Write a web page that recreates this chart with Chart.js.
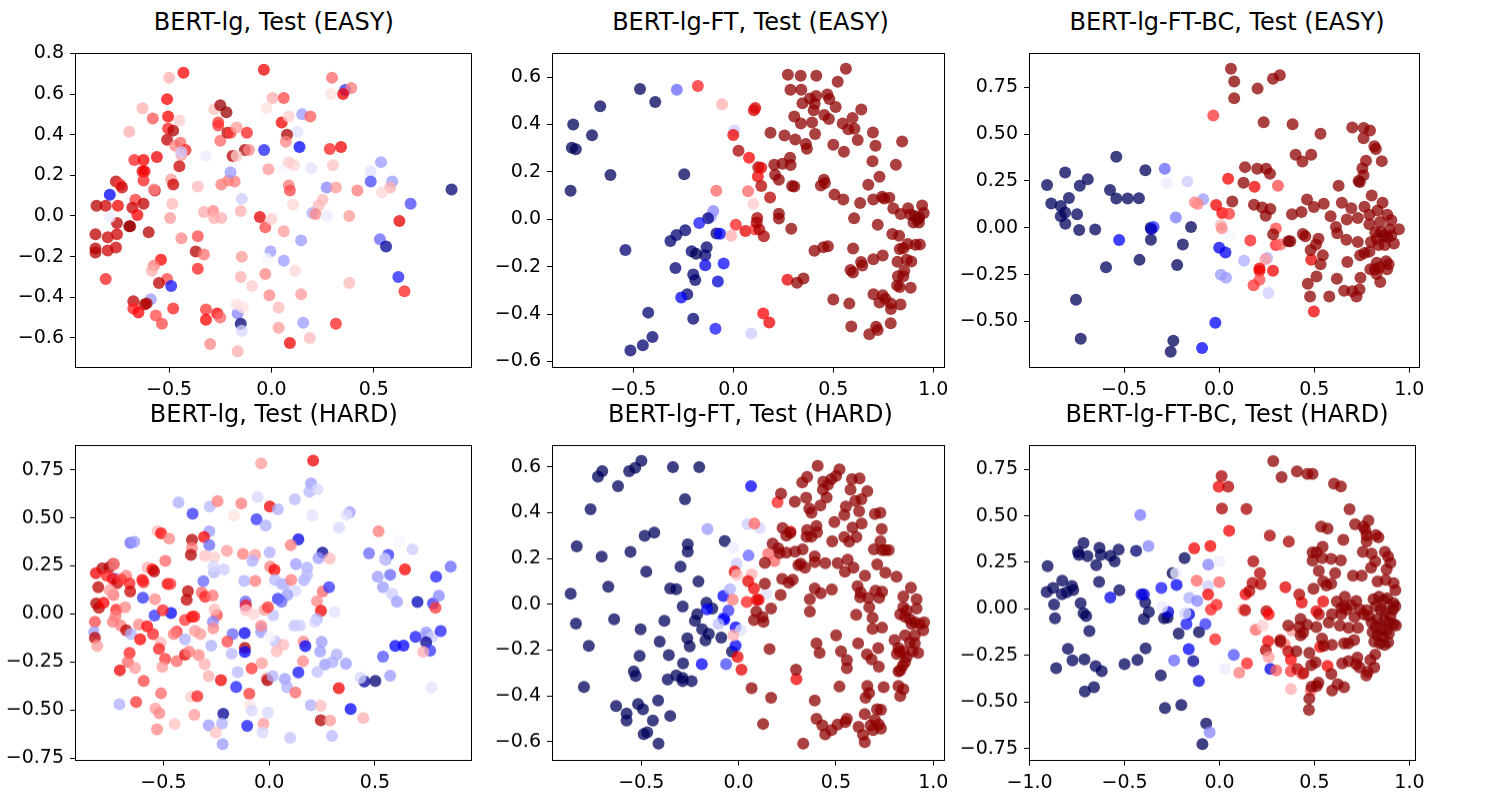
<!DOCTYPE html>
<html><head><meta charset="utf-8">
<script src="https://cdn.jsdelivr.net/npm/chart.js@4.4.1/dist/chart.umd.min.js"></script>
<style>
body{margin:0;background:#fff;width:1500px;height:800px;position:relative;overflow:hidden;font-family:"DejaVu Sans",sans-serif}
.box{position:absolute}
.ttl{position:absolute;text-align:center;font-family:"DejaVu Sans";font-size:24px;line-height:28px;color:#000;white-space:nowrap}
</style></head><body>
<script>
const easyBert = [
[-0.5,0.68,.58],[-0.43,0.705,.75],[-0.037,0.72,.78],[0.296,0.68,.65],[0.36,0.62,.3],[0.39,0.63,.63],[0.35,0.60,.77],[0.29,0.60,.53],
[0.005,0.58,.58],[0.06,0.58,.68],[-0.63,0.53,.58],[-0.51,0.575,.75],[-0.505,0.49,.76],[-0.58,0.48,.67],[-0.45,0.47,.55],
[-0.28,0.525,.56],[-0.25,0.545,.95],[-0.22,0.51,.95],[-0.26,0.445,.7],[-0.26,0.46,.7],[-0.025,0.53,.53],
[0.05,0.46,.77],[0.085,0.49,.55],[0.15,0.5,.4],[0.19,0.49,.66],[0.127,0.415,.47],[0.076,0.4,.92],[0.07,0.365,.62],
[0.137,0.34,.25],[-0.036,0.325,.28],[0.285,0.33,.72],[0.34,0.34,.78],[-0.695,0.415,.58],
[-0.505,0.43,.72],[-0.48,0.42,.9],[-0.51,0.375,.88],[-0.47,0.345,.62],[-0.445,0.36,.65],[-0.42,0.325,.72],[-0.44,0.3,.6],[-0.44,0.315,.45],
[-0.25,0.37,.65],[-0.215,0.41,.9],[-0.2,0.41,.7],[-0.17,0.435,.6],[-0.12,0.41,.72],
[-0.32,0.295,.48],[-0.19,0.295,.9],[-0.13,0.325,.92],[-0.11,0.325,.62],[-0.17,0.295,.55],
[-0.67,0.275,.72],[-0.625,0.275,.75],[-0.56,0.29,.78],[-0.63,0.22,.78],[-0.62,0.22,.78],[-0.625,0.175,.72],
[-0.45,0.245,.85],[-0.49,0.18,.6],[-0.48,0.155,.85],[-0.57,0.125,.85],[-0.575,0.13,.62],
[-0.36,0.145,.57],[-0.245,0.155,.63],[-0.21,0.175,.63],[-0.18,0.17,.63],
[-0.2,0.215,.4],[-0.015,0.23,.6],[0.065,0.24,.49],[0.11,0.25,.54],[0.085,0.265,.55],[0.195,0.235,.47],[0.3,0.25,.56],
[0.535,0.265,.4],[0.485,0.22,.47],[0.485,0.17,.32],[0.59,0.17,.4],[0.58,0.14,.58],[0.54,0.115,.54],[0.42,0.125,.63],
[0.27,0.14,.38],[0.315,0.14,.6],[0.085,0.15,.63],[0.09,0.125,.68],
[0.25,0.08,.57],[0.23,0.05,.57],[0.2,0.015,.42],[0.215,0.01,.62],[0.27,0.0,.48],[0.38,0.0,.6],
[0.105,0.055,.54],[-0.145,0.085,.45],[-0.15,0.025,.58],
[-0.33,0.02,.58],[-0.285,0.025,.62],[-0.28,-0.01,.58],[-0.245,-0.01,.58],[-0.485,0.06,.57],[-0.495,-0.01,.6],
[-0.79,0.105,.25],[-0.76,0.17,.88],[-0.74,0.155,.7],[-0.73,0.14,.85],
[-0.855,0.05,.9],[-0.81,0.05,.85],[-0.75,0.05,.78],[-0.665,0.08,.7],[-0.68,0.04,.85],[-0.655,0.005,.75],[-0.625,0.06,.88],
[-0.755,-0.035,.88],[-0.695,-0.05,.95],[-0.69,-0.05,.95],[-0.6,-0.08,.9],[-0.755,-0.09,.85],[-0.79,-0.005,.48],
[-0.86,-0.09,.88],[-0.8,-0.105,.85],[-0.76,-0.155,.85],[-0.8,-0.17,.85],[-0.86,-0.16,.9],[-0.86,-0.18,.9],
[-0.81,-0.31,.72],[-0.36,-0.1,.68],[-0.44,-0.11,.62],[-0.37,-0.175,.9],[-0.33,-0.19,.64],
[-0.54,-0.215,.75],[-0.575,-0.245,.63],[-0.585,-0.27,.58],
[-0.36,-0.26,.72],[-0.51,-0.31,.68],[-0.55,-0.33,.88],[-0.49,-0.345,.27],
[-0.59,-0.41,.4],[-0.675,-0.42,.88],[-0.61,-0.43,.92],[-0.62,-0.435,.9],[-0.675,-0.455,.72],[-0.65,-0.475,.75],
[-0.565,-0.49,.68],[-0.48,-0.455,.72],[-0.535,-0.53,.68],
[-0.32,-0.46,.7],[-0.32,-0.51,.75],[-0.265,-0.48,.75],[-0.25,-0.5,.65],[-0.3,-0.63,.62],
[-0.165,-0.48,.38],[-0.15,-0.53,.05],[-0.145,-0.565,.46],[-0.17,-0.435,.53],[-0.14,-0.45,.53],[-0.165,-0.665,.58],
[-0.03,-0.285,.62],[-0.01,-0.39,.62],[0.035,-0.45,.57],[0.035,-0.55,.6],[0.09,-0.625,.78],
[0.155,-0.525,.4],[0.187,-0.6,.57],[0.315,-0.53,.72],
[-0.145,-0.2,.6],[-0.15,-0.3,.58],[-0.095,-0.345,.55],
[-0.005,-0.175,.4],[-0.025,-0.21,.49],[0.06,-0.22,.4],[0.115,-0.27,.54],
[0.145,-0.12,.4],[0.06,-0.075,.6],[-0.03,-0.055,.68],[-0.057,-0.005,.8],[0.0,-0.015,.55],
[0.145,-0.385,.6],[0.38,-0.33,.57],
[0.53,-0.115,.35],[0.56,-0.15,.1],[0.62,-0.3,.28],[0.65,-0.37,.72],[0.625,-0.025,.8],[0.68,0.06,.32],[0.88,0.13,.05]
];
const easyFT = [
[-0.466,0.55,.02],[-0.39,0.495,.02],[-0.665,0.477,.02],[-0.8,0.4,.02],[-0.706,0.355,.02],[-0.807,0.302,.02],[-0.787,0.295,.02],[-0.614,0.187,.02],[-0.245,0.19,.02],[-0.813,0.12,.02],
[-0.282,0.547,.35],[-0.177,0.562,.72],[-0.056,0.485,.58],[0.005,0.375,.45],[0.0,0.356,.78],[0.103,0.46,.82],[0.11,0.47,.82],
[0.026,0.289,.92],[0.079,0.26,.75],[0.125,0.22,.92],[0.14,0.217,.8],[0.123,0.18,.78],[0.14,0.14,.9],
[-0.085,0.12,.65],[0.074,0.118,.65],[0.1,0.065,.55],[0.184,0.092,.9],
[-0.1,0.035,.38],[-0.112,0.012,.4],[-0.126,0.004,.08],[-0.17,-0.016,.27],
[-0.24,-0.046,.05],[-0.284,-0.066,.05],[-0.314,-0.092,.05],[-0.084,-0.06,.05],[-0.066,-0.061,.25],
[-0.133,-0.118,.05],[-0.14,-0.152,.05],[-0.208,-0.135,.05],[-0.186,-0.146,.02],[-0.048,-0.187,.26],[-0.14,-0.194,.22],
[-0.539,-0.13,.05],[-0.289,-0.206,.05],[-0.2,-0.233,.05],[-0.19,-0.256,.05],[-0.077,-0.263,.18],
[-0.23,-0.316,.05],[-0.26,-0.33,.25],[-0.425,-0.394,.05],[-0.2,-0.42,.05],[-0.089,-0.462,.27],[0.09,-0.482,.45],
[-0.404,-0.497,.05],[-0.452,-0.532,.05],[-0.514,-0.554,.05],
[0.013,-0.023,.72],[0.061,-0.05,.8],[0.108,-0.043,.7],[-0.011,-0.07,.58],
[0.12,0.005,.92],[0.117,-0.014,.92],[0.13,-0.043,.92],[0.153,-0.072,.92],
[0.15,-0.398,.75],[0.18,-0.436,.78],[0.271,-0.255,.8],
[0.273,0.61,.97],[0.337,0.606,.97],[0.415,0.606,.97],[0.563,0.635,.97],[0.522,0.58,.97],
[0.286,0.547,.97],[0.34,0.547,.97],[0.414,0.52,.97],[0.383,0.51,.97],[0.47,0.527,.97],[0.48,0.508,.97],[0.346,0.49,.97],[0.407,0.488,.97],[0.402,0.46,.97],[0.512,0.474,.97],[0.64,0.463,.97],
[0.305,0.434,.97],[0.455,0.44,.97],[0.478,0.423,.97],[0.338,0.404,.97],[0.394,0.408,.97],[0.547,0.404,.97],[0.596,0.427,.97],[0.575,0.38,.97],[0.606,0.382,.97],
[0.186,0.365,.97],[0.256,0.354,.97],[0.409,0.36,.97],[0.31,0.337,.97],[0.363,0.318,.97],[0.368,0.298,.97],[0.5,0.314,.97],[0.553,0.285,.97],[0.622,0.335,.97],[0.698,0.366,.97],[0.711,0.31,.97],[0.844,0.328,.97],
[0.284,0.26,.97],[0.287,0.229,.97],[0.246,0.234,.97],[0.205,0.23,.97],[0.209,0.188,.97],[0.228,0.167,.97],[0.294,0.14,.97],[0.305,0.138,.97],[0.453,0.167,.97],[0.458,0.153,.97],[0.438,0.142,.97],
[0.696,0.245,.97],[0.813,0.23,.97],[0.731,0.179,.97],[0.675,0.146,.97],
[0.506,0.104,.97],[0.55,0.083,.97],[0.634,0.069,.97],[0.7,0.083,.97],[0.744,0.095,.97],[0.754,0.088,.97],[0.78,0.091,.97],[0.8,0.045,.97],[0.837,0.022,.97],[0.874,0.046,.97],[0.885,0.02,.97],[0.944,0.058,.97],[0.952,0.026,.97],
[0.228,0.023,.97],[0.228,0.003,.97],[0.604,0.004,.97],[0.29,-0.04,.97],[0.722,-0.023,.97],
[0.908,0.014,.99],[0.92,-0.001,.99],[0.928,-0.014,.99],[0.901,-0.014,.99],[0.93,0.007,.99],
[0.795,-0.062,.97],[0.829,-0.07,.97],[0.872,-0.104,.97],[0.832,-0.126,.97],[0.85,-0.122,.97],[0.911,-0.108,.97],[0.933,-0.107,.97],
[0.406,-0.133,.97],[0.45,-0.118,.97],[0.473,-0.114,.97],[0.599,-0.123,.97],[0.7,-0.169,.97],[0.747,-0.153,.97],
[0.586,-0.214,.97],[0.598,-0.225,.97],[0.639,-0.18,.97],[0.645,-0.195,.97],[0.821,-0.179,.97],[0.867,-0.171,.97],[0.89,-0.178,.97],[0.855,-0.217,.97],[0.823,-0.24,.97],[0.85,-0.24,.97],
[0.319,-0.268,.97],[0.351,-0.25,.97],[0.819,-0.279,.97],[0.832,-0.286,.97],[0.887,-0.289,.97],
[0.701,-0.316,.97],[0.747,-0.321,.97],[0.76,-0.335,.97],[0.731,-0.351,.97],[0.788,-0.356,.97],[0.788,-0.379,.97],[0.836,-0.36,.97],[0.787,-0.439,.97],
[0.5,-0.339,.97],[0.58,-0.356,.97],[0.59,-0.453,.97],[0.714,-0.454,.97],[0.722,-0.467,.97],[0.68,-0.485,.97]
];
const easyBC = [
[-0.905,0.228,.02],[-0.883,0.13,.02],[-0.81,0.295,.02],[-0.79,0.159,.02],[-0.833,0.116,.02],[-0.81,0.082,.02],[-0.833,0.062,.02],[-0.809,0.022,.02],[-0.747,0.072,.02],[-0.733,0.224,.02],[-0.691,0.259,.02],[-0.736,-0.012,.02],[-0.652,-0.009,.02],[-0.574,0.202,.02],[-0.541,0.38,.02],[-0.541,0.156,.02],[-0.481,0.156,.02],[-0.422,0.158,.02],[-0.388,0.307,.02],[-0.36,0.0,.02],[-0.359,-0.063,.02],[-0.419,-0.171,.02],[-0.595,-0.21,.02],[-0.753,-0.384,.02],[-0.728,-0.592,.02],[-0.255,-0.661,.02],[-0.241,-0.603,.02],[-0.191,-0.089,.02],[-0.148,0.005,.02],[-0.221,-0.199,.02],
[-0.526,-0.065,.25],[-0.345,0.005,.3],[-0.357,-0.007,.15],[-0.286,0.315,.35],[-0.276,0.24,.48],[-0.228,0.055,.37],[-0.167,0.247,.45],[-0.084,0.152,.4],[-0.112,0.127,.62],[-0.128,0.136,.62],
[-0.02,-0.507,.25],[-0.09,-0.642,.25],[0.0,-0.106,.22],[0.033,-0.132,.23],[0.009,-0.25,.4],[0.036,-0.267,.4],[0.131,-0.176,.42],[0.252,-0.161,.42],[0.259,-0.348,.45],[0.057,-0.039,.49],
[-0.031,0.599,.7],[0.047,0.262,.77],[-0.016,0.122,.78],[0.016,0.079,.75],[0.052,0.075,.7],[0.009,0.015,.57],[0.014,-0.002,.62],
[0.186,0.219,.78],[0.309,0.224,.68],[0.164,-0.068,.72],[0.298,-0.003,.68],[0.298,-0.092,.72],[0.322,-0.089,.65],
[0.243,-0.168,.6],[0.212,-0.217,.78],[0.212,-0.229,.78],[0.212,-0.277,.68],[0.181,-0.307,.7],[0.283,-0.229,.78],[0.484,-0.17,.8],[0.498,-0.447,.78],
[0.062,0.849,.97],[0.079,0.781,.99],[0.079,0.692,.97],[0.202,0.743,.97],[0.283,0.796,.97],[0.319,0.815,.97],[0.234,0.563,.97],[0.386,0.553,.97],[0.533,0.502,.97],[0.402,0.39,.97],[0.484,0.39,.97],[0.438,0.354,.97],
[0.136,0.324,.97],[0.2,0.315,.97],[0.247,0.315,.97],[0.267,0.289,.97],[0.128,0.24,.97],[0.069,0.14,.97],[0.183,0.123,.97],[0.226,0.108,.97],[0.269,0.101,.97],[0.245,0.065,.97],
[0.383,0.072,.97],[0.433,0.084,.97],[0.462,0.151,.97],[0.498,0.111,.97],[0.55,0.128,.97],[0.586,0.062,.97],[0.628,0.224,.97],[0.645,0.134,.97],[0.671,0.045,.97],[0.614,0.005,.97],[0.621,-0.029,.97],[0.695,0.104,.97],[0.729,0.053,.97],[0.764,0.113,.97],[0.802,0.173,.97],[0.79,0.07,.97],[0.859,0.134,.97],
[0.7,0.536,.97],[0.76,0.533,.97],[0.793,0.519,.97],[0.759,0.478,.97],[0.816,0.435,.97],[0.824,0.421,.97],[0.772,0.358,.97],[0.855,0.356,.97],[0.753,0.318,.97],[0.759,0.281,.97],[0.733,0.25,.99],[0.74,0.245,.99],
[0.284,-0.034,.97],[0.364,-0.072,.99],[0.374,-0.072,.99],[0.44,-0.033,.97],[0.453,-0.045,.97],[0.481,-0.118,.97],[0.522,-0.058,.97],[0.509,-0.089,.97],[0.545,-0.147,.97],[0.533,-0.195,.97],
[0.466,-0.298,.97],[0.512,-0.26,.97],[0.478,-0.366,.97],[0.579,-0.366,.97],[0.619,-0.272,.97],[0.657,-0.336,.97],[0.7,-0.339,.97],[0.722,-0.366,.97],[0.738,-0.329,.97],[0.743,-0.267,.97],[0.674,-0.183,.97],[0.669,-0.063,.97],
[0.729,-0.075,.97],[0.741,-0.147,.97],[0.764,-0.135,.97],[0.79,-0.127,.97],[0.798,-0.075,.97],[0.829,-0.058,.97],[0.838,-0.092,.97],[0.871,-0.092,.97],[0.821,-0.024,.97],[0.85,-0.024,.97],[0.867,-0.041,.99],[0.884,-0.05,.99],[0.905,-0.041,.99],[0.895,-0.007,.97],[0.919,-0.084,.97],[0.945,-0.007,.97],[0.884,0.07,.97],[0.905,0.041,.97],[0.833,0.092,.97],[0.845,0.031,.97],[0.79,0.019,.97],
[0.829,-0.187,.97],[0.841,-0.212,.97],[0.819,-0.221,.97],[0.795,-0.221,.97],[0.878,-0.178,.97],[0.891,-0.195,.97],[0.883,-0.221,.97],[0.828,-0.247,.97],[0.847,-0.289,.97]
];
const hardBert = [
[-0.038,0.784,.6],[0.208,0.798,.78],[0.198,0.679,.4],[0.19,0.637,.43],[0.228,0.65,.46],[-0.055,0.609,.46],[0.121,0.597,.43],
[-0.429,0.58,.42],[-0.281,0.56,.43],[-0.244,0.587,.63],[-0.132,0.575,.63],[-0.362,0.522,.3],[0.003,0.56,.78],[0.041,0.545,.42],[-0.167,0.512,.53],[0.204,0.512,.47],
[-0.06,0.493,.3],[-0.017,0.46,.42],[0.381,0.53,.4],[0.365,0.517,.47],[0.33,0.45,.46],[0.517,0.43,.63],
[-0.283,0.43,.4],[-0.528,0.431,.57],[-0.511,0.42,.75],[-0.473,0.393,.62],[-0.365,0.386,.9],[-0.308,0.4,.75],[-0.365,0.344,.63],[-0.283,0.358,.35],[-0.37,0.308,.9],
[-0.656,0.37,.35],[-0.638,0.375,.4],[0.138,0.388,.22],[0.102,0.358,.63],
[0.002,0.321,.42],[-0.124,0.313,.63],[-0.066,0.308,.6],[-0.079,0.276,.42],[-0.2,0.329,.6],[-0.303,0.303,.56],[-0.259,0.296,.55],
[0.252,0.319,.1],[0.233,0.291,.4],[0.286,0.288,.57],[0.472,0.316,.35],[0.563,0.308,.3],[0.55,0.283,.4],[0.678,0.336,.45],[0.613,0.381,.49],
[-0.736,0.261,.9],[-0.755,0.244,.9],[-0.733,0.258,.62],[-0.789,0.237,.9],[-0.819,0.212,.78],[-0.767,0.199,.72],[-0.731,0.187,.4],[-0.739,0.182,.75],[-0.808,0.139,.88],[-0.676,0.199,.63],[-0.719,0.16,.85],[-0.7,0.18,.7],[-0.66,0.159,.72],[-0.657,0.117,.85],[-0.736,0.099,.64],[-0.755,0.124,.6],
[-0.575,0.241,.58],[-0.552,0.232,.75],[-0.544,0.222,.88],[-0.491,0.276,.65],[-0.6,0.177,.75],[-0.594,0.165,.72],[-0.48,0.157,.78],[-0.467,0.157,.7],
[-0.384,0.119,.88],[-0.39,0.074,.88],[-0.319,0.112,.65],[-0.303,0.09,.72],[-0.267,0.097,.64],[-0.311,0.171,.35],[-0.261,0.217,.43],[-0.264,0.247,.46],[-0.214,0.232,.45],
[-0.597,0.085,.3],[-0.542,-0.008,.3],[-0.464,0.005,.25],[-0.503,0.02,.72],[-0.54,0.077,.62],
[-0.818,0.055,.9],[-0.805,0.032,.88],[-0.783,0.059,.75],[-0.723,0.022,.72],[-0.726,-0.01,.63],[-0.681,0.035,.62],
[-0.824,-0.04,.68],[-0.827,-0.094,.4],[-0.824,-0.124,.88],[-0.813,-0.166,.6],[-0.778,-0.087,.5],
[-0.739,-0.04,.63],[-0.701,-0.06,.63],[-0.676,-0.085,.88],[-0.653,-0.104,.42],
[-0.616,-0.055,.62],[-0.577,-0.064,.75],[-0.549,-0.104,.72],[-0.61,-0.132,.75],
[-0.398,-0.032,.7],[-0.365,-0.015,.75],[-0.354,-0.013,.72],[-0.247,-0.007,.68],[-0.259,0.023,.57],
[-0.266,-0.04,.38],[-0.264,-0.074,.62],[-0.351,-0.087,.6],[-0.325,-0.104,.6],[-0.437,-0.092,.7],[-0.451,-0.104,.63],
[-0.398,-0.132,.42],[-0.513,-0.149,.57],[-0.521,-0.181,.72],
[-0.274,-0.164,.42],[-0.173,-0.104,.35],[-0.178,-0.206,.43],[-0.116,-0.099,.22],[-0.115,-0.176,.9],[-0.115,-0.197,.25],[-0.198,-0.144,.68],
[-0.66,-0.202,.72],[-0.668,-0.249,.65],[-0.634,-0.281,.6],[-0.706,-0.293,.78],[-0.593,-0.349,.68],
[-0.492,-0.234,.7],[-0.437,-0.246,.65],[-0.505,-0.276,.6],[-0.398,-0.211,.8],[-0.379,-0.196,.63],[-0.333,-0.214,.62],[-0.305,-0.261,.58],
[-0.369,-0.431,.55],[-0.34,-0.428,.72],[-0.511,-0.413,.65],[-0.629,-0.458,.7],[-0.708,-0.47,.42],
[-0.538,-0.492,.6],[-0.519,-0.517,.62],[-0.53,-0.6,.62],[-0.447,-0.573,.56],[-0.354,-0.525,.6],
[-0.228,-0.344,.78],[-0.286,-0.324,.58],[-0.156,-0.38,.28],[-0.149,-0.303,.43],[-0.083,-0.283,.7],[-0.094,-0.415,.7],
[-0.217,-0.519,.1],[-0.286,-0.579,.4],[-0.223,-0.57,.42],[-0.22,-0.677,.4],[-0.252,-0.617,.56],
[-0.104,-0.582,.27],[-0.09,-0.475,.53],[-0.083,-0.503,.46],[-0.027,-0.572,.6],[-0.031,-0.617,.46],[-0.006,-0.513,.46],
[-0.013,-0.336,.6],[-0.008,-0.344,.9],[0.016,-0.324,.42],[-0.035,-0.256,.6],[-0.038,-0.094,.4],[-0.036,-0.074,.42],[-0.038,-0.062,.62],
[0.03,-0.144,.44],[0.002,-0.119,.49],[0.019,-0.007,.44],[-0.022,0.022,.6],[-0.006,0.035,.7],[-0.112,0.043,.35],[-0.112,0.065,.35],[-0.11,0.045,.72],[-0.11,0.02,.56],[-0.074,-0.002,.54],
[0.005,0.246,.63],[0.025,0.229,.75],[-0.066,0.172,.63],[-0.118,0.172,.42],[0.06,0.157,.42],[0.075,0.154,.43],[0.027,0.177,.43],[0.104,0.177,.63],[0.165,0.176,.42],[0.179,0.241,.42],[0.179,0.202,.43],[0.126,0.259,.4],[0.124,0.12,.46],[0.086,0.099,.4],[0.041,0.079,.3],[0.058,0.064,.35],
[0.253,0.117,.65],[0.226,0.067,.62],[0.245,0.017,.78],[0.283,0.14,.3],[0.308,0.01,.47],[0.225,-0.027,.42],[0.217,-0.04,.46],
[0.119,-0.06,.44],[0.146,-0.06,.45],[0.162,-0.144,.62],[0.171,-0.167,.25],[0.248,-0.145,.4],[0.241,-0.196,.4],[0.264,-0.263,.4],[0.299,-0.251,.42],[0.319,-0.211,.42],[0.363,-0.258,.4],
[0.138,-0.304,.27],[0.228,-0.301,.44],[0.16,-0.246,.62],[0.074,-0.338,.4],[0.085,-0.381,.42],[0.124,-0.408,.65],[0.066,-0.161,.57],[0.035,-0.194,.57],
[0.197,-0.475,.42],[0.244,-0.478,.57],[0.244,-0.553,.9],[0.288,-0.555,.6],[0.297,-0.634,.43],[0.099,-0.645,.44],
[0.329,-0.386,.78],[0.45,-0.351,.12],[0.502,-0.349,.05],[0.385,-0.495,.25],[0.445,-0.542,.58],[0.431,-0.331,.46],
[0.538,-0.222,.33],[0.572,-0.321,.4],[0.596,-0.166,.25],[0.635,-0.164,.25],[0.692,-0.119,.27],[0.742,-0.095,.4],[0.747,-0.11,.4],[0.77,-0.119,.45],[0.742,-0.147,.1],[0.761,-0.191,.3],[0.728,-0.197,.58],[0.767,-0.383,.47],[0.811,-0.089,.28],
[0.642,0.232,.76],[0.701,0.062,.15],[0.774,0.055,.3],[0.786,0.032,.7],[0.802,0.095,.38],[0.789,0.194,.28],[0.858,0.246,.35],
[0.513,0.194,.4],[0.538,0.14,.4],[0.572,0.204,.35],[0.582,0.104,.45],[0.604,0.064,.4],[0.546,0.288,.45]
];
const hardFT = [
[-0.499,0.626,.02],[-0.531,0.595,.02],[-0.562,0.581,.02],[-0.337,0.599,.02],[-0.202,0.599,.02],[-0.7,0.581,.02],[-0.722,0.557,.02],[-0.619,0.515,.02],[-0.275,0.458,.02],[-0.76,0.415,.02],[-0.433,0.313,.02],[-0.482,0.299,.02],[-0.831,0.253,.02],[-0.261,0.262,.02],[-0.261,0.23,.02],[-0.703,0.208,.02],[-0.555,0.229,.02],[-0.071,0.276,.02],[-0.474,0.142,.02],[-0.298,0.164,.02],[-0.206,0.1,.02],[-0.669,0.077,.02],[-0.351,0.069,.02],[-0.32,0.066,.02],[-0.862,0.046,.02],[-0.287,-0.01,.02],[-0.165,0.007,.02],[-0.135,-0.018,.02],[-0.212,-0.044,.02],[-0.224,-0.072,.02],[-0.381,-0.072,.02],[-0.639,-0.065,.02],[-0.835,-0.084,.02],[-0.503,-0.109,.02],[-0.187,-0.109,.02],[-0.153,-0.129,.02],[-0.17,-0.157,.02],[-0.263,-0.149,.02],[-0.251,-0.184,.02],[-0.405,-0.163,.02],[-0.089,-0.145,.02],[-0.769,-0.181,.02],[-0.508,-0.225,.02],[-0.358,-0.222,.02],[-0.034,-0.206,.02],[-0.285,-0.258,.02],[-0.538,-0.293,.02],[-0.528,-0.313,.02],[-0.364,-0.328,.02],[-0.32,-0.31,.02],[-0.287,-0.321,.02],[-0.287,-0.335,.02],[-0.241,-0.335,.02],[-0.794,-0.361,.02],[-0.629,-0.444,.02],[-0.516,-0.435,.02],[-0.491,-0.458,.02],[-0.575,-0.477,.02],[-0.575,-0.507,.02],[-0.413,-0.42,.02],[-0.44,-0.507,.02],[-0.351,-0.487,.02],[-0.487,-0.566,.02],[-0.469,-0.559,.02],[-0.411,-0.608,.02],
[0.064,0.515,.25],[-0.078,0.036,.25],[-0.162,-0.022,.25],[-0.078,-0.062,.25],[-0.073,-0.067,.25],[-0.052,-0.027,.3],[-0.015,-0.1,.25],[-0.015,-0.18,.25],[-0.189,-0.261,.25],[-0.064,-0.261,.32],[0.051,0.213,.35],
[-0.16,0.328,.4],[0.046,0.349,.45],[0.11,0.333,.46],[-0.027,0.248,.48],[-0.01,0.177,.45],[-0.044,0.066,.42],[-0.103,-0.086,.44],[0.012,-0.112,.47],[0.143,0.046,.47],
[0.081,0.352,.65],[0.2,0.445,.72],[0.184,0.188,.65],[0.152,0.22,.65],[-0.02,0.142,.78],[-0.008,0.128,.57],[0.067,0.13,.58],[0.049,0.101,.8],[0.079,0.069,.78],[0.093,0.02,.8],[0.103,0.02,.8],[0.042,0.01,.72],[-0.03,0.02,.63],[-0.027,-0.135,.58],[-0.005,-0.229,.78],[0.015,-0.285,.8],[0.297,-0.327,.78],[0.266,0.317,.72],
[0.406,0.604,.97],[0.518,0.589,.97],[0.501,0.56,.97],[0.476,0.546,.97],[0.582,0.546,.97],[0.621,0.549,.97],[0.327,0.532,.97],[0.352,0.556,.97],[0.435,0.535,.97],[0.459,0.522,.97],[0.575,0.5,.97],[0.661,0.494,.97],[0.433,0.5,.97],[0.218,0.483,.97],[0.452,0.466,.97],[0.599,0.451,.97],[0.631,0.458,.97],[0.289,0.448,.97],
[0.347,0.465,.97],[0.363,0.418,.97],[0.374,0.399,.97],[0.42,0.431,.97],[0.551,0.427,.97],[0.543,0.39,.97],[0.619,0.406,.97],[0.7,0.394,.97],[0.728,0.399,.97],
[0.492,0.359,.97],[0.4,0.342,.97],[0.352,0.324,.97],[0.403,0.314,.97],[0.632,0.352,.97],[0.585,0.335,.97],[0.226,0.333,.97],[0.245,0.3,.97],[0.266,0.312,.97],[0.349,0.295,.97],[0.374,0.295,.97],[0.481,0.275,.97],[0.543,0.293,.97],[0.568,0.274,.97],[0.605,0.293,.97],[0.735,0.328,.97],[0.728,0.275,.97],[0.695,0.24,.97],[0.737,0.237,.97],[0.754,0.237,.97],[0.771,0.237,.97],
[0.175,0.265,.97],[0.204,0.244,.97],[0.211,0.223,.97],[0.245,0.226,.97],[0.29,0.23,.97],[0.329,0.24,.97],[0.391,0.209,.97],[0.391,0.184,.97],[0.445,0.18,.97],[0.509,0.18,.97],[0.56,0.195,.97],[0.546,0.142,.97],[0.59,0.16,.97],[0.649,0.125,.97],[0.712,0.174,.97],[0.754,0.138,.97],[0.811,0.121,.97],
[0.135,0.181,.97],[0.135,0.09,.97],[0.123,-0.055,.97],[0.091,-0.032,.97],[0.079,-0.069,.97],[0.128,-0.076,.97],[0.167,-0.018,.97],[0.216,0.041,.97],[0.224,0.111,.97],[0.258,0.094,.97],[0.278,0.107,.97],[0.307,0.171,.97],[0.319,0.177,.97],[0.341,0.16,.97],[0.391,0.069,.97],[0.422,0.048,.97],[0.366,0.022,.97],[0.366,-0.032,.97],[0.479,0.065,.97],[0.611,0.079,.97],[0.627,0.052,.97],[0.666,0.029,.97],[0.624,0.031,.97],[0.671,-0.013,.97],[0.703,0.059,.97],[0.737,0.055,.97],[0.722,0.029,.97],[0.604,-0.046,.97],[0.688,-0.059,.97],[0.688,-0.107,.97],[0.737,-0.102,.97],
[0.885,0.072,.97],[0.846,0.034,.97],[0.914,0.022,.97],[0.846,-0.013,.97],[0.863,-0.027,.97],[0.83,-0.044,.97],[0.855,-0.055,.97],[0.914,-0.018,.97],[0.88,-0.065,.97],[0.905,-0.079,.97],[0.93,-0.086,.97],[0.953,-0.079,.97],[0.948,-0.114,.97],[0.889,-0.086,.97],[0.855,-0.135,.97],[0.905,-0.135,.97],[0.905,-0.17,.97],[0.88,-0.166,.97],[0.922,-0.212,.97],[0.894,-0.205,.97],[0.846,-0.205,.97],[0.813,-0.216,.97],[0.826,-0.205,.97],[0.801,-0.156,.97],[0.821,-0.191,.97],[0.863,-0.23,.97],[0.855,-0.251,.97],[0.843,-0.268,.97],[0.83,-0.289,.97],[0.821,-0.293,.97],
[0.416,-0.212,.97],[0.4,-0.17,.97],[0.526,-0.205,.97],[0.501,-0.135,.97],[0.614,-0.17,.97],[0.659,-0.219,.97],[0.683,-0.24,.97],[0.717,-0.191,.97],[0.72,-0.272,.97],[0.556,-0.244,.97],[0.556,-0.279,.97],[0.518,-0.359,.97],[0.661,-0.356,.97],[0.67,-0.387,.97],[0.652,-0.408,.97],[0.745,-0.362,.97],[0.711,-0.458,.97],[0.731,-0.46,.97],[0.7,-0.504,.97],[0.72,-0.525,.97],[0.731,-0.542,.97],[0.691,-0.549,.97],[0.678,-0.528,.97],[0.648,-0.479,.97],[0.639,-0.57,.97],[0.648,-0.601,.97],[0.616,-0.535,.97],[0.556,-0.5,.97],[0.509,-0.525,.97],[0.548,-0.514,.97],[0.477,-0.549,.97],[0.445,-0.567,.97],[0.43,-0.528,.97],[0.4,-0.5,.97],[0.391,-0.42,.97],[0.332,-0.608,.97],[0.295,-0.285,.97],[0.167,-0.408,.97],[0.159,-0.195,.97],[0.067,-0.366,.97],[0.126,-0.522,.97],[0.821,-0.356,.97],[0.846,-0.371,.97],[0.83,-0.4,.97]
];
const hardBC = [
[-0.905,0.23,.02],[-0.91,0.091,.02],[-0.876,0.112,.02],[-0.871,0.024,.02],[-0.866,-0.05,.02],[-0.828,0.152,.02],[-0.83,0.079,.02],[-0.804,0.09,.02],[-0.777,0.123,.02],[-0.77,0.102,.02],[-0.731,0.031,.02],[-0.716,-0.024,.02],[-0.702,-0.038,.02],[-0.685,-0.119,.02],[-0.716,0.354,.02],[-0.745,0.307,.02],[-0.74,0.29,.02],[-0.695,0.283,.02],[-0.649,0.235,.02],[-0.632,0.328,.02],[-0.625,0.29,.02],[-0.574,0.285,.02],[-0.552,0.255,.02],[-0.531,0.318,.02],[-0.634,0.145,.02],[-0.527,0.1,.02],[-0.798,-0.214,.02],[-0.774,-0.276,.02],[-0.86,-0.318,.02],[-0.711,-0.271,.02],[-0.652,-0.307,.02],[-0.62,-0.335,.02],[-0.709,-0.444,.02],[-0.661,-0.421,.02],[-0.5,-0.297,.02],[-0.432,-0.274,.02],[-0.439,0.312,.05],[-0.391,0.035,.02],[-0.398,-0.055,.02],[-0.372,-0.017,.02],[-0.389,-0.212,.02],[-0.309,-0.357,.02],[-0.287,-0.532,.02],[-0.201,-0.516,.02],[-0.09,-0.727,.02],[-0.07,-0.616,.02],[-0.184,0.273,.02],[-0.247,0.192,.02],[-0.273,-0.047,.02],[-0.292,-0.05,.02],[-0.215,-0.133,.02],[-0.108,-0.124,.02],
[-0.575,0.062,.22],[-0.411,0.078,.2],[-0.398,0.078,.2],[-0.306,0.112,.27],[-0.27,-0.017,.2],[-0.226,0.129,.25],[-0.174,-0.081,.27],[-0.16,-0.029,.22],[-0.162,-0.216,.25],[-0.138,-0.28,.1],[-0.109,-0.387,.2],[-0.074,-0.081,.3],[0.268,-0.323,.22],[0.075,-0.247,.33],
[-0.417,0.504,.37],[-0.374,0.337,.38],[-0.059,0.238,.38],[-0.06,0.123,.45],[-0.159,0.06,.42],[-0.117,0.043,.38],[-0.239,-0.276,.35],[-0.052,-0.663,.38],[-0.002,0.255,.48],[-0.18,-0.024,.46],[-0.303,0.01,.48],[-0.229,0.192,.48],[0.029,-0.323,.48],
[-0.133,0.325,.77],[-0.048,0.338,.77],[-0.12,0.152,.65],[-0.001,0.143,.65],[-0.06,0.078,.75],[-0.045,-0.003,.72],[-0.015,0.022,.72],[-0.023,-0.164,.72],[-0.004,0.656,.78],[0.046,0.656,.9],[0.011,0.713,.92],[0.013,0.539,.92],[0.142,0.537,.92],[0.051,0.419,.78],[0.265,0.394,.92],[0.365,0.362,.92],[0.137,0.079,.78],[0.157,0.095,.9],[0.174,0.14,.9],[0.213,0.192,.9],[0.217,0.133,.9],[0.178,0.255,.92],[0.124,-0.003,.6],[0.135,-0.007,.88],[0.247,-0.012,.9],[0.259,-0.029,.75],[0.191,-0.112,.65],[0.227,-0.09,.55],[0.256,-0.173,.78],[0.244,-0.221,.9],[0.259,-0.259,.6],[0.145,-0.293,.72],[0.104,-0.342,.63],[0.299,-0.331,.66],[0.347,0.116,.8],[0.321,-0.167,.9],[0.343,-0.19,.64],[0.362,-0.228,.9],[0.376,-0.273,.75],[0.376,-0.335,.7],[0.376,-0.43,.58],[0.381,-0.116,.6],[0.41,-0.323,.9],[0.435,-0.349,.65],[0.442,-0.345,.9],[0.433,0.035,.8],[0.42,0.078,.9],[0.546,0.04,.8],[0.51,-0.012,.8],[0.523,-0.029,.9],[0.569,-0.306,.75],[0.53,-0.204,.78],[0.481,-0.438,.65],
[0.283,0.794,.97],[0.327,0.708,.97],[0.408,0.739,.97],[0.463,0.725,.97],[0.49,0.725,.97],[0.603,0.673,.97],[0.639,0.658,.97],[0.685,0.535,.97],[0.714,0.454,.97],[0.784,0.475,.97],[0.758,0.442,.97],[0.767,0.425,.97],[0.775,0.394,.97],[0.775,0.363,.97],[0.823,0.397,.97],[0.837,0.385,.97],[0.755,0.307,.97],[0.801,0.297,.97],[0.82,0.255,.97],[0.798,0.221,.97],[0.871,0.307,.97],[0.888,0.281,.97],[0.88,0.212,.97],[0.9,0.247,.97],[0.917,0.138,.97],[0.926,0.1,.97],[0.875,0.155,.97],[0.832,0.148,.97],
[0.535,0.442,.97],[0.569,0.432,.97],[0.543,0.333,.97],[0.652,0.371,.97],[0.511,0.304,.97],[0.49,0.304,.97],[0.49,0.259,.97],[0.523,0.204,.97],[0.541,0.273,.97],[0.588,0.269,.97],[0.609,0.192,.97],[0.639,0.261,.97],[0.495,0.109,.97],[0.546,0.147,.97],[0.563,0.126,.97],[0.588,0.135,.97],[0.703,0.178,.97],[0.749,0.178,.97],[0.618,0.04,.97],[0.66,0.066,.97],[0.657,0.014,.97],[0.694,0.019,.97],[0.72,0.043,.97],[0.669,-0.003,.97],[0.641,0.005,.97],[0.711,-0.043,.97],[0.74,-0.003,.97],[0.758,-0.029,.97],[0.775,-0.007,.97],[0.786,-0.038,.97],
[0.575,-0.073,.97],[0.592,-0.029,.97],[0.641,-0.029,.97],[0.634,-0.09,.97],[0.68,-0.102,.97],[0.729,-0.102,.97],[0.427,-0.055,.97],[0.42,-0.098,.97],[0.461,-0.086,.97],[0.44,-0.129,.97],[0.427,-0.142,.97],[0.51,-0.098,.97],[0.362,-0.09,.97],[0.32,-0.176,.97],[0.405,-0.228,.97],[0.473,-0.236,.97],[0.54,-0.159,.97],[0.549,-0.198,.97],[0.592,-0.193,.97],[0.656,-0.185,.97],[0.678,-0.185,.97],[0.709,-0.167,.97],[0.506,-0.288,.97],[0.483,-0.302,.97],[0.646,-0.293,.97],[0.589,-0.349,.97],[0.72,-0.297,.97],[0.738,-0.314,.97],[0.781,-0.337,.97],[0.815,-0.314,.97],[0.773,-0.357,.97],[0.68,-0.28,.97],[0.726,-0.262,.97],[0.794,-0.274,.97],[0.82,-0.245,.97],
[0.473,-0.482,.97],[0.471,-0.542,.97],[0.485,-0.418,.97],[0.521,-0.397,.97],[0.512,-0.414,.97],[0.593,-0.438,.97],[0.622,-0.405,.97],[0.656,-0.421,.97],
[0.811,0.052,.99],[0.84,0.066,.99],[0.866,0.048,.99],[0.883,0.057,.99],[0.917,0.031,.99],[0.926,0.014,.99],[0.823,0.014,.99],[0.849,-0.003,.99],[0.875,-0.012,.99],[0.9,-0.038,.99],[0.832,-0.055,.99],[0.866,-0.064,.99],[0.892,-0.072,.99],[0.917,-0.081,.99],[0.929,-0.09,.99],[0.823,-0.098,.99],[0.852,-0.107,.99],[0.88,-0.116,.99],[0.806,-0.124,.99],[0.832,-0.142,.99],[0.857,-0.15,.99],[0.892,-0.133,.99],[0.815,-0.176,.99],[0.845,-0.185,.99],[0.869,-0.193,.99],[0.888,-0.18,.99],[0.801,-0.072,.99],[0.914,-0.003,.99]
];

const xTicksA = [-0.5, 0.0, 0.5];
const xTicksB = [-0.5, 0.0, 0.5, 1.0];
const xTicksC = [-1.0, -0.5, 0.0, 0.5, 1.0];
const yTicks1 = [-0.6,-0.4,-0.2,0.0,0.2,0.4,0.6,0.8];
const yTicks2 = [-0.6,-0.4,-0.2,0.0,0.2,0.4,0.6];
const yTicks3 = [-0.5,-0.25,0.0,0.25,0.5,0.75];
const yTicks4 = [-0.75,-0.5,-0.25,0.0,0.25,0.5,0.75];

const panels = [
 {title:'BERT-lg, Test (EASY)', data:easyBert, xr:[-0.96,0.975], yr:[-0.746,0.8], xt:xTicksA, yt:yTicks1, xd:1, yd:1, box:[75.3,40.7,472.3,367.3]},
 {title:'BERT-lg-FT, Test (EASY)', data:easyFT, xr:[-0.906,1.052], yr:[-0.626,0.70], xt:xTicksB, yt:yTicks2, xd:1, yd:1, box:[551.7,40.7,949.3,367.3]},
 {title:'BERT-lg-FT-BC, Test (EASY)', data:easyBC, xr:[-1.0,1.05], yr:[-0.746,0.931], xt:xTicksB, yt:yTicks3, xd:1, yd:2, box:[1028.7,40.7,1425.3,367.3]},
 {title:'BERT-lg, Test (HARD)', data:hardBert, xr:[-0.918,0.954], yr:[-0.763,0.877], xt:xTicksA, yt:yTicks4, xd:1, yd:2, box:[75.3,433.3,472.3,760]},
 {title:'BERT-lg-FT, Test (HARD)', data:hardFT, xr:[-0.958,1.054], yr:[-0.682,0.693], xt:xTicksB, yt:yTicks2, xd:1, yd:1, box:[551.7,433.3,949.3,760]},
 {title:'BERT-lg-FT-BC, Test (HARD)', data:hardBC, xr:[-1.003,1.028], yr:[-0.815,0.878], xt:xTicksC, yt:yTicks4, xd:1, yd:2, box:[1028.7,433.3,1425.3,760]}
];

function seismic(v){
  const stops=[[0,[0,0,76.5]],[0.25,[0,0,255]],[0.5,[255,255,255]],[0.75,[255,0,0]],[1,[127.5,0,0]]];
  for(let i=0;i<stops.length-1;i++){
    const [a,ca]=stops[i],[b,cb]=stops[i+1];
    if(v<=b){const t=(v-a)/(b-a);const c=ca.map((x,k)=>Math.round(x+(cb[k]-x)*t));return `rgba(${c[0]},${c[1]},${c[2]},0.75)`;}
  }
  return 'rgba(128,0,0,0.75)';
}
const fmt=(v,d)=>(v<0?'\u2212':'')+Math.abs(v).toFixed(d);
const frame={id:'frame',afterDatasetsDraw(ch){const a=ch.chartArea,c=ch.ctx;c.save();c.strokeStyle='#000';c.lineWidth=1;c.strokeRect(Math.round(a.left)+0.5,Math.round(a.top)+0.5,Math.round(a.right-a.left),Math.round(a.bottom-a.top));c.restore();}};
Chart.defaults.font.family='"DejaVu Sans", sans-serif';
Chart.defaults.color='#000';
const tickFont={family:'"DejaVu Sans", sans-serif',size:19};

panels.forEach(p=>{
  const [l,t,r,b]=p.box;
  const YW=70,XH=40,PT=5,PR=5;
  const div=document.createElement('div');div.className='box';
  div.style.left=(l-YW)+'px';div.style.top=(t-PT)+'px';div.style.width=(r-l+YW+PR)+'px';div.style.height=(b-t+XH+PT)+'px';
  const cv=document.createElement('canvas');div.appendChild(cv);document.body.appendChild(div);
  const tt=document.createElement('div');tt.className='ttl';tt.textContent=p.title;
  tt.style.left=(l-30)+'px';tt.style.width=(r-l+60)+'px';tt.style.top=(t-33)+'px';document.body.appendChild(tt);
  new Chart(cv,{type:'scatter',
    data:{datasets:[{data:p.data.map(d=>({x:d[0],y:d[1]})),pointBackgroundColor:p.data.map(d=>seismic(d[2])),pointBorderWidth:0,pointBorderColor:'rgba(0,0,0,0)',pointRadius:6,pointHoverRadius:6}]},
    options:{responsive:true,maintainAspectRatio:false,animation:false,events:[],
      layout:{padding:{top:PT,right:PR,left:0,bottom:0}},
      plugins:{legend:{display:false},tooltip:{enabled:false}},
      scales:{
        x:{type:'linear',min:p.xr[0],max:p.xr[1],afterFit(s){s.height=XH;},afterBuildTicks(s){s.ticks=p.xt.map(v=>({value:v}));},
          ticks:{font:tickFont,padding:6,maxRotation:0,callback:v=>fmt(v,p.xd)},
          grid:{drawOnChartArea:false,drawTicks:true,tickLength:5,color:'#000',tickColor:'#000'},border:{color:'#000'}},
        y:{type:'linear',min:p.yr[0],max:p.yr[1],afterFit(s){s.width=YW;},afterBuildTicks(s){s.ticks=p.yt.map(v=>({value:v}));},
          ticks:{font:tickFont,padding:6,callback:v=>fmt(v,p.yd)},
          grid:{drawOnChartArea:false,drawTicks:true,tickLength:5,color:'#000',tickColor:'#000'},border:{color:'#000'}}
      }},
    plugins:[frame]});
});
</script>
</body></html>
